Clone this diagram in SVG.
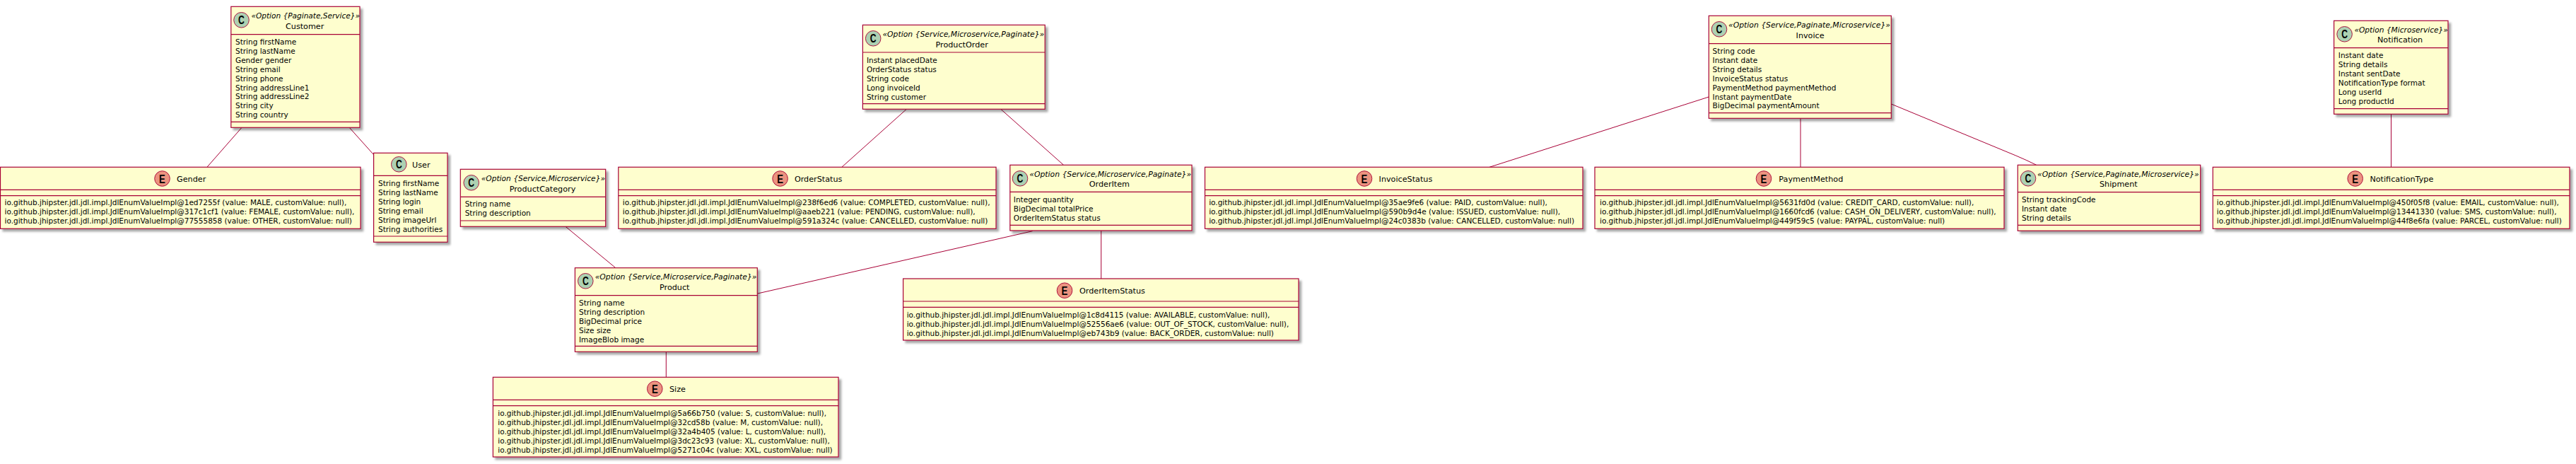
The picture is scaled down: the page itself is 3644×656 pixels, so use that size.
<svg xmlns="http://www.w3.org/2000/svg" width="3644" height="656" viewBox="0 0 3644 656">
<style>
text{font-family:"DejaVu Sans","Liberation Sans",sans-serif;font-size:10.5px;fill:#000}
.t{font-size:11.2px}
.s{font-size:10.7px;font-style:italic}
.b{fill:#FEFECE;stroke:#A80036;stroke-width:1.2;filter:url(#sh)}
.l{stroke:#A80036;stroke-width:1;fill:none}
.d{stroke:#A80036;stroke-width:1.2;fill:none}
.cc{fill:#ADD1B2;stroke:#A80036;stroke-width:0.9}
.ce{fill:#EB937F;stroke:#A80036;stroke-width:0.9}
.g{font-family:"Liberation Sans",sans-serif;font-size:16px;font-weight:bold;text-anchor:middle}
</style>
<defs><filter id="sh" x="-5%" y="-5%" width="110%" height="115%"><feDropShadow dx="3.5" dy="3.5" stdDeviation="1.6" flood-color="#000" flood-opacity="0.35"/></filter></defs>
<g id="connectors">
<line class="l" x1="342" y1="180.3" x2="292.9" y2="236.3"/>
<line class="l" x1="494.2" y1="180.3" x2="528.6" y2="218.7"/>
<line class="l" x1="800" y1="320.3" x2="870.8" y2="378.7"/>
<line class="l" x1="1460.6" y1="326.7" x2="1071.7" y2="415"/>
<line class="l" x1="942.3" y1="497.3" x2="942.3" y2="533.3"/>
<line class="l" x1="1282.4" y1="154.3" x2="1190.8" y2="236.3"/>
<line class="l" x1="1415.7" y1="154.3" x2="1504.5" y2="233.3"/>
<line class="l" x1="1557.7" y1="326" x2="1557.7" y2="394"/>
<line class="l" x1="2417.3" y1="137" x2="2107" y2="236.3"/>
<line class="l" x1="2547" y1="167.3" x2="2547" y2="236.3"/>
<path class="l" d="M2675.3 147L2851.7 220Q2866 226 2880.7 233.3"/>
<line class="l" x1="3382.5" y1="161.3" x2="3382.5" y2="236.3"/>
</g>
<g id="Customer"><rect class="b" x="326.8" y="9.3" width="182.2" height="171"/><path class="d" d="M326.8 48.7H509M326.8 172.3H509"/><ellipse class="cc" cx="341.5" cy="28.3" rx="10.8" ry="10.8"/><text class="g" x="341.5" y="34.3" textLength="8.8" lengthAdjust="spacingAndGlyphs">C</text><text class="s" x="355.4" y="26" textLength="153.6" lengthAdjust="spacingAndGlyphs">«Option {Paginate,Service}»</text><text class="t" x="404" y="40.7">Customer</text>
<text x="333" y="63">String firstName</text><text x="333" y="76">String lastName</text><text x="333" y="89">Gender gender</text><text x="333" y="102">String email</text><text x="333" y="115">String phone</text><text x="333" y="128">String addressLine1</text><text x="333" y="140">String addressLine2</text><text x="333" y="153">String city</text><text x="333" y="166">String country</text></g>
<g id="Gender"><rect class="b" x="0.5" y="236.3" width="509.5" height="87"/><path class="d" d="M0.5 268.3H510M0.5 276.7H510"/><ellipse class="ce" cx="229.5" cy="252.5" rx="10.8" ry="10.8"/><text class="g" x="229.5" y="258.5" textLength="8.8" lengthAdjust="spacingAndGlyphs">E</text><text class="t" x="250" y="256.7">Gender</text>
<text x="6.5" y="290">io.github.jhipster.jdl.jdl.impl.JdlEnumValueImpl@1ed7255f (value: MALE, customValue: null),</text><text x="6.5" y="303">io.github.jhipster.jdl.jdl.impl.JdlEnumValueImpl@317c1cf1 (value: FEMALE, customValue: null),</text><text x="6.5" y="316">io.github.jhipster.jdl.jdl.impl.JdlEnumValueImpl@77555858 (value: OTHER, customValue: null)</text></g>
<g id="User"><rect class="b" x="528.6" y="216.3" width="104.4" height="126"/><path class="d" d="M528.6 248.3H633M528.6 334H633"/><ellipse class="cc" cx="564.3" cy="232.3" rx="10.8" ry="10.8"/><text class="g" x="564.3" y="238.3" textLength="8.8" lengthAdjust="spacingAndGlyphs">C</text><text class="t" x="583" y="236.7">User</text>
<text x="535" y="262.7">String firstName</text><text x="535" y="275.7">String lastName</text><text x="535" y="288.7">String login</text><text x="535" y="301.7">String email</text><text x="535" y="314.7">String imageUrl</text><text x="535" y="327.7">String authorities</text></g>
<g id="ProductCategory"><rect class="b" x="651.3" y="239.3" width="205.4" height="81"/><path class="d" d="M651.3 278.3H856.7M651.3 312H856.7"/><ellipse class="cc" cx="666.7" cy="258.3" rx="10.8" ry="10.8"/><text class="g" x="666.7" y="264.3" textLength="8.8" lengthAdjust="spacingAndGlyphs">C</text><text class="s" x="680.7" y="255.7" textLength="175.3" lengthAdjust="spacingAndGlyphs">«Option {Service,Microservice}»</text><text class="t" x="720.7" y="270.7">ProductCategory</text>
<text x="657.7" y="292.3">String name</text><text x="657.7" y="305.3">String description</text></g>
<g id="Product"><rect class="b" x="813.4" y="378.7" width="257.9" height="118.6"/><path class="d" d="M813.4 417.7H1071.3M813.4 489.3H1071.3"/><ellipse class="cc" cx="828.3" cy="397.3" rx="10.8" ry="10.8"/><text class="g" x="828.3" y="403.3" textLength="8.8" lengthAdjust="spacingAndGlyphs">C</text><text class="s" x="841.7" y="395" textLength="228.8" lengthAdjust="spacingAndGlyphs">«Option {Service,Microservice,Paginate}»</text><text class="t" x="933" y="410">Product</text>
<text x="819" y="432">String name</text><text x="819" y="445">String description</text><text x="819" y="458">BigDecimal price</text><text x="819" y="471">Size size</text><text x="819" y="484">ImageBlob image</text></g>
<g id="Size"><rect class="b" x="697.4" y="533.3" width="488.6" height="112.7"/><path class="d" d="M697.4 565.3H1186M697.4 573.7H1186"/><ellipse class="ce" cx="926.3" cy="549.7" rx="10.8" ry="10.8"/><text class="g" x="926.3" y="555.7" textLength="8.8" lengthAdjust="spacingAndGlyphs">E</text><text class="t" x="947" y="554">Size</text>
<text x="704.3" y="587.7">io.github.jhipster.jdl.jdl.impl.JdlEnumValueImpl@5a66b750 (value: S, customValue: null),</text><text x="704.3" y="600.7">io.github.jhipster.jdl.jdl.impl.JdlEnumValueImpl@32cd58b (value: M, customValue: null),</text><text x="704.3" y="613.7">io.github.jhipster.jdl.jdl.impl.JdlEnumValueImpl@32a4b405 (value: L, customValue: null),</text><text x="704.3" y="626.7">io.github.jhipster.jdl.jdl.impl.JdlEnumValueImpl@3dc23c93 (value: XL, customValue: null),</text><text x="704.3" y="639.7">io.github.jhipster.jdl.jdl.impl.JdlEnumValueImpl@5271c04c (value: XXL, customValue: null)</text></g>
<g id="ProductOrder"><rect class="b" x="1220.4" y="35.3" width="257.8" height="119"/><path class="d" d="M1220.4 74H1478.2M1220.4 146.7H1478.2"/><ellipse class="cc" cx="1235.2" cy="54.3" rx="10.8" ry="10.8"/><text class="g" x="1235.2" y="60.3" textLength="8.8" lengthAdjust="spacingAndGlyphs">C</text><text class="s" x="1248.4" y="51.7" textLength="228.8" lengthAdjust="spacingAndGlyphs">«Option {Service,Microservice,Paginate}»</text><text class="t" x="1323.5" y="66.7">ProductOrder</text>
<text x="1225.9" y="89">Instant placedDate</text><text x="1225.9" y="102">OrderStatus status</text><text x="1225.9" y="115">String code</text><text x="1225.9" y="128">Long invoiceId</text><text x="1225.9" y="141">String customer</text></g>
<g id="OrderStatus"><rect class="b" x="874.8" y="236.3" width="534.2" height="87"/><path class="d" d="M874.8 268.3H1409M874.8 276.7H1409"/><ellipse class="ce" cx="1103.6" cy="252.5" rx="10.8" ry="10.8"/><text class="g" x="1103.6" y="258.5" textLength="8.8" lengthAdjust="spacingAndGlyphs">E</text><text class="t" x="1123.9" y="256.7">OrderStatus</text>
<text x="880.8" y="290">io.github.jhipster.jdl.jdl.impl.JdlEnumValueImpl@238f6ed6 (value: COMPLETED, customValue: null),</text><text x="880.8" y="303">io.github.jhipster.jdl.jdl.impl.JdlEnumValueImpl@aaeb221 (value: PENDING, customValue: null),</text><text x="880.8" y="316">io.github.jhipster.jdl.jdl.impl.JdlEnumValueImpl@591a324c (value: CANCELLED, customValue: null)</text></g>
<g id="OrderItem"><rect class="b" x="1428.8" y="233.3" width="257.2" height="92.7"/><path class="d" d="M1428.8 271.3H1686M1428.8 318.3H1686"/><ellipse class="cc" cx="1443" cy="252.3" rx="10.8" ry="10.8"/><text class="g" x="1443" y="258.3" textLength="8.8" lengthAdjust="spacingAndGlyphs">C</text><text class="s" x="1456.3" y="250" textLength="228.8" lengthAdjust="spacingAndGlyphs">«Option {Service,Microservice,Paginate}»</text><text class="t" x="1540.7" y="264">OrderItem</text>
<text x="1433.8" y="286">Integer quantity</text><text x="1433.8" y="299">BigDecimal totalPrice</text><text x="1433.8" y="312">OrderItemStatus status</text></g>
<g id="OrderItemStatus"><rect class="b" x="1277.6" y="394" width="559.4" height="87"/><path class="d" d="M1277.6 426H1837M1277.6 434.3H1837"/><ellipse class="ce" cx="1506" cy="410.7" rx="10.8" ry="10.8"/><text class="g" x="1506" y="416.7" textLength="8.8" lengthAdjust="spacingAndGlyphs">E</text><text class="t" x="1527" y="414.7">OrderItemStatus</text>
<text x="1282.7" y="449.3">io.github.jhipster.jdl.jdl.impl.JdlEnumValueImpl@1c8d4115 (value: AVAILABLE, customValue: null),</text><text x="1282.7" y="462.3">io.github.jhipster.jdl.jdl.impl.JdlEnumValueImpl@52556ae6 (value: OUT_OF_STOCK, customValue: null),</text><text x="1282.7" y="475.3">io.github.jhipster.jdl.jdl.impl.JdlEnumValueImpl@eb743b9 (value: BACK_ORDER, customValue: null)</text></g>
<g id="Invoice"><rect class="b" x="2417.3" y="22.3" width="258" height="145"/><path class="d" d="M2417.3 61.7H2675.3M2417.3 159.7H2675.3"/><ellipse class="cc" cx="2432" cy="41.3" rx="10.8" ry="10.8"/><text class="g" x="2432" y="47.3" textLength="8.8" lengthAdjust="spacingAndGlyphs">C</text><text class="s" x="2445" y="39" textLength="229" lengthAdjust="spacingAndGlyphs">«Option {Service,Paginate,Microservice}»</text><text class="t" x="2540.6" y="54">Invoice</text>
<text x="2422.6" y="76">String code</text><text x="2422.6" y="89">Instant date</text><text x="2422.6" y="102">String details</text><text x="2422.6" y="115">InvoiceStatus status</text><text x="2422.6" y="128">PaymentMethod paymentMethod</text><text x="2422.6" y="141">Instant paymentDate</text><text x="2422.6" y="153">BigDecimal paymentAmount</text></g>
<g id="InvoiceStatus"><rect class="b" x="1704.5" y="236.3" width="534.5" height="87"/><path class="d" d="M1704.5 268.3H2239M1704.5 276.7H2239"/><ellipse class="ce" cx="1930" cy="252.5" rx="10.8" ry="10.8"/><text class="g" x="1930" y="258.5" textLength="8.8" lengthAdjust="spacingAndGlyphs">E</text><text class="t" x="1950.6" y="256.7">InvoiceStatus</text>
<text x="1710.2" y="290">io.github.jhipster.jdl.jdl.impl.JdlEnumValueImpl@35ae9fe6 (value: PAID, customValue: null),</text><text x="1710.2" y="303">io.github.jhipster.jdl.jdl.impl.JdlEnumValueImpl@590b9d4e (value: ISSUED, customValue: null),</text><text x="1710.2" y="316">io.github.jhipster.jdl.jdl.impl.JdlEnumValueImpl@24c0383b (value: CANCELLED, customValue: null)</text></g>
<g id="PaymentMethod"><rect class="b" x="2256" y="236.3" width="579" height="87"/><path class="d" d="M2256 268.3H2835M2256 276.7H2835"/><ellipse class="ce" cx="2495" cy="252.5" rx="10.8" ry="10.8"/><text class="g" x="2495" y="258.5" textLength="8.8" lengthAdjust="spacingAndGlyphs">E</text><text class="t" x="2516.3" y="256.7">PaymentMethod</text>
<text x="2263" y="290">io.github.jhipster.jdl.jdl.impl.JdlEnumValueImpl@5631fd0d (value: CREDIT_CARD, customValue: null),</text><text x="2263" y="303">io.github.jhipster.jdl.jdl.impl.JdlEnumValueImpl@1660fcd6 (value: CASH_ON_DELIVERY, customValue: null),</text><text x="2263" y="316">io.github.jhipster.jdl.jdl.impl.JdlEnumValueImpl@449f59c5 (value: PAYPAL, customValue: null)</text></g>
<g id="Shipment"><rect class="b" x="2854.3" y="233.3" width="258.4" height="93"/><path class="d" d="M2854.3 271.7H3112.7M2854.3 318.3H3112.7"/><ellipse class="cc" cx="2869" cy="252.3" rx="10.8" ry="10.8"/><text class="g" x="2869" y="258.3" textLength="8.8" lengthAdjust="spacingAndGlyphs">C</text><text class="s" x="2882" y="250" textLength="228.7" lengthAdjust="spacingAndGlyphs">«Option {Service,Paginate,Microservice}»</text><text class="t" x="2970" y="264">Shipment</text>
<text x="2860" y="286">String trackingCode</text><text x="2860" y="299">Instant date</text><text x="2860" y="312">String details</text></g>
<g id="Notification"><rect class="b" x="3301.6" y="29.3" width="161.4" height="132"/><path class="d" d="M3301.6 67.7H3463M3301.6 153.7H3463"/><ellipse class="cc" cx="3316.6" cy="48.3" rx="10.8" ry="10.8"/><text class="g" x="3316.6" y="54.3" textLength="8.8" lengthAdjust="spacingAndGlyphs">C</text><text class="s" x="3330.4" y="46" textLength="132.5" lengthAdjust="spacingAndGlyphs">«Option {Microservice}»</text><text class="t" x="3363" y="59.7">Notification</text>
<text x="3307.8" y="82">Instant date</text><text x="3307.8" y="95">String details</text><text x="3307.8" y="108">Instant sentDate</text><text x="3307.8" y="121">NotificationType format</text><text x="3307.8" y="134">Long userId</text><text x="3307.8" y="147">Long productId</text></g>
<g id="NotificationType"><rect class="b" x="3130.3" y="236.3" width="504.7" height="87"/><path class="d" d="M3130.3 268.3H3635M3130.3 276.7H3635"/><ellipse class="ce" cx="3331.7" cy="252.5" rx="10.8" ry="10.8"/><text class="g" x="3331.7" y="258.5" textLength="8.8" lengthAdjust="spacingAndGlyphs">E</text><text class="t" x="3352.4" y="256.7">NotificationType</text>
<text x="3135.8" y="290">io.github.jhipster.jdl.jdl.impl.JdlEnumValueImpl@450f05f8 (value: EMAIL, customValue: null),</text><text x="3135.8" y="303">io.github.jhipster.jdl.jdl.impl.JdlEnumValueImpl@13441330 (value: SMS, customValue: null),</text><text x="3135.8" y="316">io.github.jhipster.jdl.jdl.impl.JdlEnumValueImpl@44f8e6fa (value: PARCEL, customValue: null)</text></g>
</svg>
